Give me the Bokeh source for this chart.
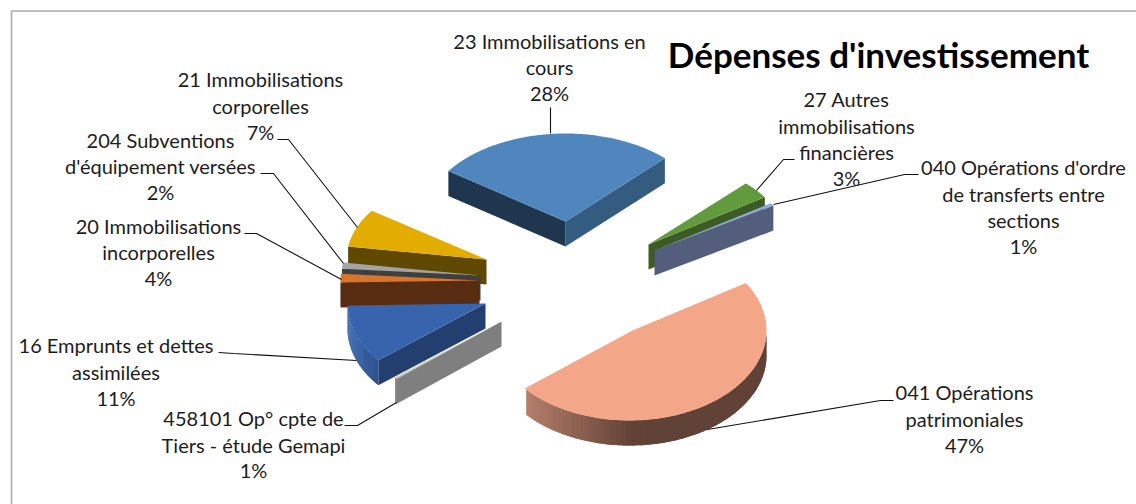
import numpy as np
from bokeh.plotting import figure
from bokeh.embed import file_html
from bokeh.resources import INLINE
from bokeh.core.properties import value

# ---- data ----
categories = ["23 Immobilisations en cours", "27 Autres immobilisations financières",
              "040 Opérations d'ordre de transferts entre sections", "041 Opérations patrimoniales",
              "458101 Op° cpte de Tiers - étude Gemapi", "16 Emprunts et dettes assimilées",
              "20 Immobilisations incorporelles", "204 Subventions d'équipement versées",
              "21 Immobilisations corporelles"]
shares = [28, 3, 1, 47, 1, 11, 4, 2, 7]
label_lines = [["23 Immobilisations en", "cours"],
               ["27 Autres", "immobilisations", "financières"],
               ["040 Opérations d'ordre", "de transferts entre", "sections"],
               ["041 Opérations", "patrimoniales"],
               ["458101 Op° cpte de", "Tiers - étude Gemapi"],
               ["16 Emprunts et dettes", "assimilées"],
               ["20 Immobilisations", "incorporelles"],
               ["204 Subventions", "d'équipement versées"],
               ["21 Immobilisations", "corporelles"]]
title_text = "Dépenses d'investissement"

# ---- view / layout (window pixels) ----
W, H = 1136, 504
START = 145.0
DEPTH = 25.0
CENTER = (570.0, 265.0)
# the 3-D view squeezes some slices: apparent span relative to the share
span_scale = [1.02, 1.17, 0.55, 1.054, 0.30, 0.99, 0.42, 0.62, 1.08]
explode = [(-5, -44), (78, -21), (84, -15), (62, 65), (-69, 56), (-85, 38), (-91, 15), (-90, 10), (-84, -6)]
# apparent radii per slice, and a small sideways shift of the rim (perspective)
radii = [(143, 88), (140, 85), (140, 85), (137, 90), (137, 89), (138, 90), (139, 85), (139, 85), (140, 85)]
rim_dx = [0, 0, 0, -3, 0, 0, 0, 0, 0]
top_col = ["#4f86bd", "#629b3e", "#8ea9db", "#f4a688", "#c4c4c4", "#3864ad", "#d9742b", "#a3a3a3", "#e3ac00"]
cut_col = [("#345c80", "#1f374e"), ("#3c5c24", "#3c5c24"), ("#525e7c", "#525e7c"), ("#634335", "#634335"),
           ("#7f7f7f", "#7f7f7f"), ("#223f70", "#223f70"), ("#572c10", "#572c10"), ("#3f3f3f", "#3f3f3f"),
           ("#5f4800", "#5f4800")]
rim_grad = {3: ((180, 126, 106), (97, 66, 54), (0.0, 0.45)),
            5: ((60, 105, 175), (45, 82, 142), (0.0, 1.0)),
            6: ((87, 44, 16), (87, 44, 16), (0.0, 1.0))}
draw_order = [0, 1, 2, 8, 7, 6, 5, 4, 3]

label_pos = [(549, [40, 66, 92]), (846, [98, 125, 151, 177]), (1023, [166, 193, 219, 245]),
             (964, [391, 418, 444]), (253, [417, 444, 469]), (115.5, [344, 371, 397]),
             (158, [225, 251, 277]), (160, [139, 165, 191]), (260, [78, 105, 131])]
leaders = [([550, 550], [107, 133]),
           ([794, 783, 756], [159, 159, 190]),
           ([918, 904, 773], [174, 174, 204]),
           ([893, 880, 707], [400, 400, 429]),
           ([344, 357, 396], [425, 425, 402]),
           ([218, 233, 356], [352, 353, 360]),
           ([244, 256, 341], [233, 233, 279]),
           ([260, 273, 343], [173, 173, 263]),
           ([277, 288, 357], [139, 139, 227])]

p = figure(width=W, height=H, x_range=(0, W), y_range=(H, 0), output_backend="svg",
           toolbar_location=None, min_border=0, outline_line_color=None)
p.axis.visible = False
p.grid.visible = False

# chart frame
p.line([11, 11, W], [H, 10.5, 10.5], line_color="#ababab", line_width=1.6)

# slice spans derived from the shares
sh = np.array(shares, float) * np.array(span_scale)
spans = sh / sh.sum() * 360.0
ends = START - np.cumsum(spans)
starts = ends + spans

for i in draw_order:
    A = (CENTER[0] + explode[i][0], CENTER[1] + explode[i][1])
    R = radii[i]
    C = (A[0] + rim_dx[i], A[1])

    def pt(t):
        r = np.radians(t)
        return C[0] + R[0] * np.cos(r), C[1] - R[1] * np.sin(r)

    ts = np.linspace(starts[i], ends[i], 160)
    rx, ry = pt(ts)
    mx, my = pt((starts[i] + ends[i]) / 2)

    # flat cut faces, visible when the slice lies above the cut on screen
    for tc, col in ((ends[i], cut_col[i][0]), (starts[i], cut_col[i][1])):
        px_, py_ = pt(tc)
        if abs(px_ - A[0]) < 1:
            continue
        yline = A[1] + (py_ - A[1]) * (mx - A[0]) / (px_ - A[0])
        if my < yline:
            p.patch([A[0], px_, px_, A[0]], [A[1], py_, py_ + DEPTH, A[1] + DEPTH],
                    fill_color=col, line_color=None)

    # outer rim, facing the viewer where sin(t) < 0
    n = len(ts)
    idx = [j for j in range(n - 2) if np.sin(np.radians((ts[j] + ts[j + 1]) / 2)) < 0]
    if idx:
        c0, c1, (g0, g1) = rim_grad.get(i, ((120, 120, 120), (120, 120, 120), (0, 1)))
        x0, x1 = rx[idx].min(), rx[idx].max()
        for j in idx[::2]:
            f = ((rx[j] + rx[j + 1]) / 2 - x0) / max(x1 - x0, 1)
            f = float(np.clip((f - g0) / (g1 - g0), 0, 1))
            c = "#%02x%02x%02x" % tuple(int(c0[q] + (c1[q] - c0[q]) * f) for q in range(3))
            e = min(j + 5, n - 1)
            p.patch(np.r_[rx[j:e], rx[j:e][::-1]], np.r_[ry[j:e], ry[j:e][::-1] + DEPTH],
                    fill_color=c, line_color=None)

    # top surface
    p.patch(np.r_[A[0], rx], np.r_[A[1], ry], fill_color=top_col[i], line_color=None)

# leaders
for (lx, ly) in leaders:
    p.line(lx, ly, line_color="#111111", line_width=1.1)

# labels
tx, ty, tt = [], [], []
for i, lines in enumerate(label_lines):
    x, ys = label_pos[i]
    for s, y in zip(lines + [f"{shares[i]}%"], ys):
        tx.append(x); ty.append(y); tt.append(s)
p.text(tx, ty, text=tt, text_font=value("Lato"), text_font_size="20px", text_color="#1c1c1c",
       text_align="center", text_baseline="middle")

p.text([878], [53], text=[title_text], text_font=value("Lato"), text_font_size="35px",
       text_font_style="bold", text_color="#000000", text_align="center", text_baseline="middle")

open("out.html", "w").write(file_html(p, INLINE))
